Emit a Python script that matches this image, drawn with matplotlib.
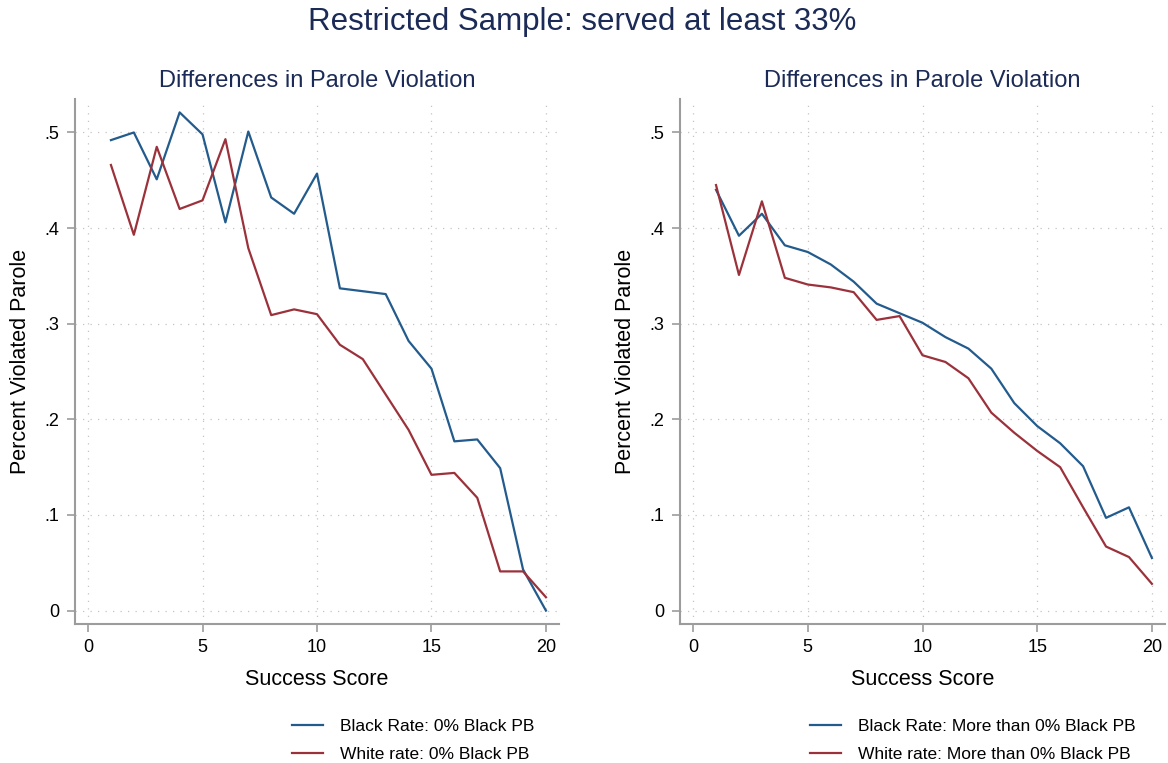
import matplotlib
matplotlib.use("Agg")
import matplotlib.pyplot as plt

plt.rcParams['font.family'] = ['Liberation Sans', 'DejaVu Sans']

# Success score buckets
score = list(range(1, 21))

# Parole violation rates, boards with 0% Black members
black_zero = [0.492, 0.500, 0.451, 0.521, 0.498, 0.406, 0.501, 0.432, 0.415, 0.457,
              0.337, 0.334, 0.331, 0.282, 0.253, 0.177, 0.179, 0.149, 0.043, 0.000]
white_zero = [0.466, 0.393, 0.485, 0.420, 0.429, 0.493, 0.379, 0.309, 0.315, 0.310,
              0.278, 0.263, 0.226, 0.189, 0.142, 0.144, 0.118, 0.041, 0.041, 0.014]

# Parole violation rates, boards with more than 0% Black members
black_some = [0.440, 0.392, 0.415, 0.382, 0.375, 0.362, 0.344, 0.321, 0.311, 0.301,
              0.286, 0.274, 0.253, 0.217, 0.193, 0.175, 0.151, 0.097, 0.108, 0.055]
white_some = [0.445, 0.351, 0.428, 0.348, 0.341, 0.338, 0.333, 0.304, 0.308, 0.267,
              0.260, 0.243, 0.207, 0.186, 0.167, 0.150, 0.108, 0.067, 0.056, 0.028]

panels = [
    (black_zero, white_zero, "Black Rate: 0% Black PB", "White rate: 0% Black PB"),
    (black_some, white_some, "Black Rate: More than 0% Black PB", "White rate: More than 0% Black PB"),
]

BLUE = "#235b8d"
RED = "#9b323b"
NAVY = "#1b2a56"
AXIS = "#9c9c9c"

W, H = 1168, 763
fig = plt.figure(figsize=(W / 100, H / 100), dpi=100)

def fx(px):
    return px / W

def fy(py):
    return 1 - py / H

ax_boxes = [(75, 559), (680, 1165)]
legend_x = [292, 810]

for (black, white, lb, lw), (x0, x1), lx in zip(panels, ax_boxes, legend_x):
    ax = fig.add_axes([fx(x0), fy(624), fx(x1 - x0), (624 - 99) / H])
    l1, = ax.plot(score, black, color=BLUE, lw=1.6, label=lb)
    l2, = ax.plot(score, white, color=RED, lw=1.6, label=lw)
    ax.set_xlim(-0.57, 20.57)
    ax.set_ylim(-0.014, 0.535)
    ax.set_xticks([0, 5, 10, 15, 20])
    ax.set_yticks([0, 0.1, 0.2, 0.3, 0.4, 0.5])
    ax.set_yticklabels(["0", ".1", ".2", ".3", ".4", ".5"])
    ax.grid(True, color="#c4c4c4", lw=0.9, linestyle=(0, (1, 5)))
    ax.set_axisbelow(True)
    for s in ["top", "right"]:
        ax.spines[s].set_visible(False)
    for s in ["left", "bottom"]:
        ax.spines[s].set_color(AXIS)
        ax.spines[s].set_linewidth(1.5)
    ax.tick_params(colors=AXIS, labelcolor="black", length=6, width=1.2,
                   labelsize=13, pad=5)
    ax.set_xlabel("Success Score", fontsize=15.5, labelpad=9)
    ax.set_ylabel("Percent Violated Parole", fontsize=15.5, labelpad=10)
    cx = (x0 + x1) / 2
    fig.text(fx(cx), fy(81), "Differences in Parole Violation", color=NAVY,
             fontsize=17, ha="center", va="center")
    fig.legend(handles=[l1, l2], loc="upper left",
               bbox_to_anchor=(fx(lx), fy(719)), frameon=False, fontsize=12.5,
               handlelength=1.8, handletextpad=0.95, labelspacing=0.75,
               borderpad=0, borderaxespad=0)

fig.text(fx(582), fy(22), "Restricted Sample: served at least 33%", color=NAVY,
         fontsize=22.5, ha="center", va="center")

fig.savefig("out.png", dpi=100, facecolor="white")
